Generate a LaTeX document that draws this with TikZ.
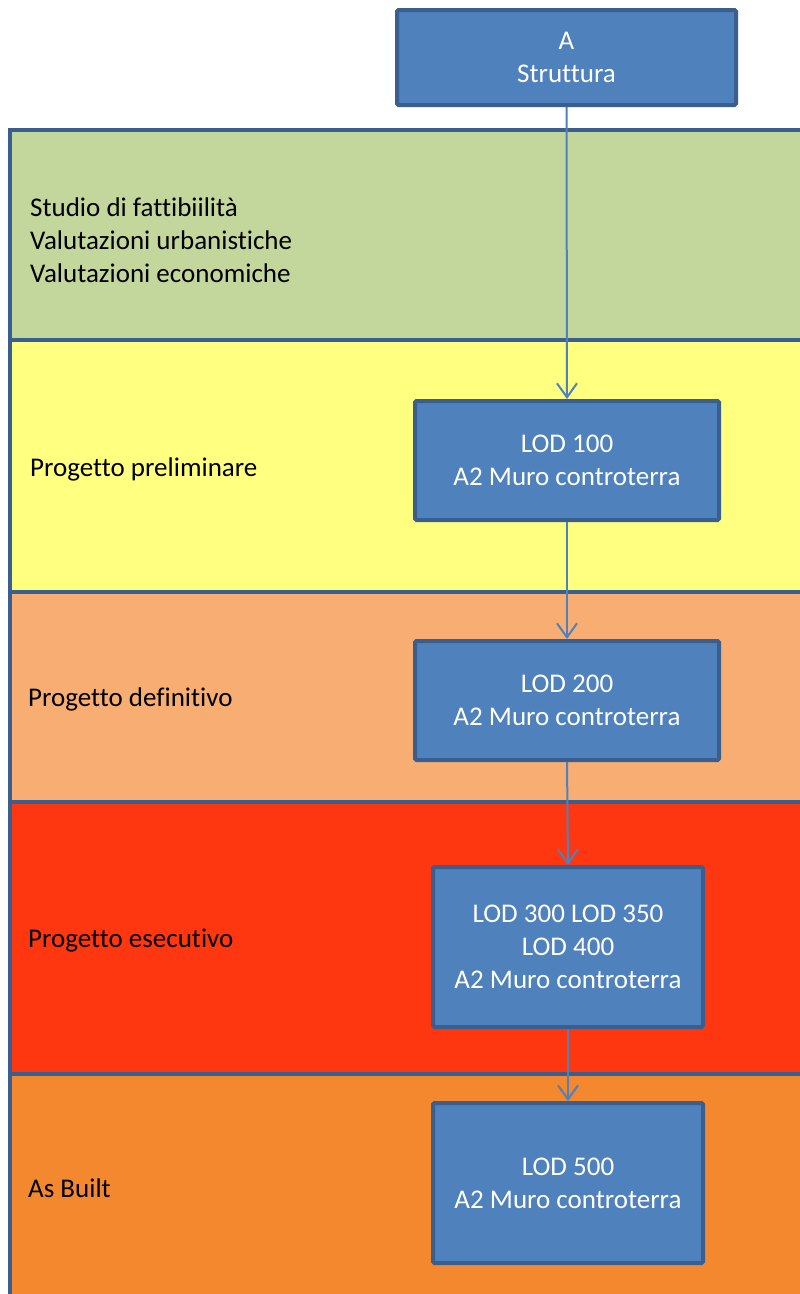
\documentclass[tikz,border=0pt]{standalone}
\usepackage{fontspec}
\setmainfont{Carlito}[RawFeature={-liga;-clig;-calt;-dlig}]
\usetikzlibrary{arrows.meta}
\definecolor{boxblue}{HTML}{4F81BD}
\definecolor{edgeblue}{HTML}{3A5F8E}
\definecolor{bandgreen}{HTML}{C3D69B}
\definecolor{bandyellow}{HTML}{FFFF80}
\definecolor{bandpeach}{HTML}{F8AE72}
\definecolor{bandred}{HTML}{FF3710}
\definecolor{bandorange}{HTML}{F4882E}

\begin{document}
\begin{tikzpicture}[x=1pt,y=-1pt,
    lodbox/.style={draw=edgeblue,line width=4pt,fill=boxblue,rounded corners=1.5pt,
        text=white,align=center,inner sep=0pt,font=\fontsize{27}{33}\selectfont},
    phase/.style={anchor=west,align=left,inner sep=0pt,font=\fontsize{27}{33}\selectfont},
    band/.style={draw=edgeblue,line width=4pt},
    flow/.style={boxblue,line width=2pt,-{Straight Barb[length=14pt,width=20pt,line width=2pt]}}]
    \clip (0,0) rectangle (800,1294);
    \fill[white] (0,0) rectangle (800,1294);

    % phases
    \draw[band,fill=bandgreen]  (10,130)  rectangle (830,340);
    \draw[band,fill=bandyellow] (10,340)  rectangle (830,592);
    \draw[band,fill=bandpeach]  (10,592)  rectangle (830,802);
    \draw[band,fill=bandred]    (10,802)  rectangle (830,1074);
    \draw[band,fill=bandorange] (10,1074) rectangle (830,1320);

    \node[phase] (studio)   at (30,240)  {Studio di fattibiilità\\Valutazioni urbanistiche\\Valutazioni economiche};
    \node[phase] (prelim)   at (30,469)  {Progetto preliminare};
    \node[phase] (defin)    at (28,699)  {Progetto definitivo};
    \node[phase] (esec)     at (28,941)  {Progetto esecutivo};
    \node[phase] (asbuilt)  at (28,1188) {As Built};

    % boxes
    \node[lodbox,minimum width=339pt,minimum height=95pt]  (struttura) at (566.5,57.5) {A\\Struttura};
    \node[lodbox,minimum width=304pt,minimum height=119pt] (lod100) at (567,460.5) {LOD 100\\A2 Muro controterra};
    \node[lodbox,minimum width=304pt,minimum height=119pt] (lod200) at (567,700.5) {LOD 200\\A2 Muro controterra};
    \node[lodbox,minimum width=270pt,minimum height=160pt] (lod300) at (568,947)   {LOD 300 LOD 350\\LOD 400\\A2 Muro controterra};
    \node[lodbox,minimum width=270pt,minimum height=160pt] (lod500) at (568,1183)  {LOD 500\\A2 Muro controterra};

    \draw[flow] (struttura.south) -- (lod100.north);
    \draw[flow] (lod100.south) -- (lod200.north);
    \draw[flow] (lod200.south) -- (lod300.north);
    \draw[flow] (lod300.south) -- (lod500.north);
\end{tikzpicture}
\end{document}
